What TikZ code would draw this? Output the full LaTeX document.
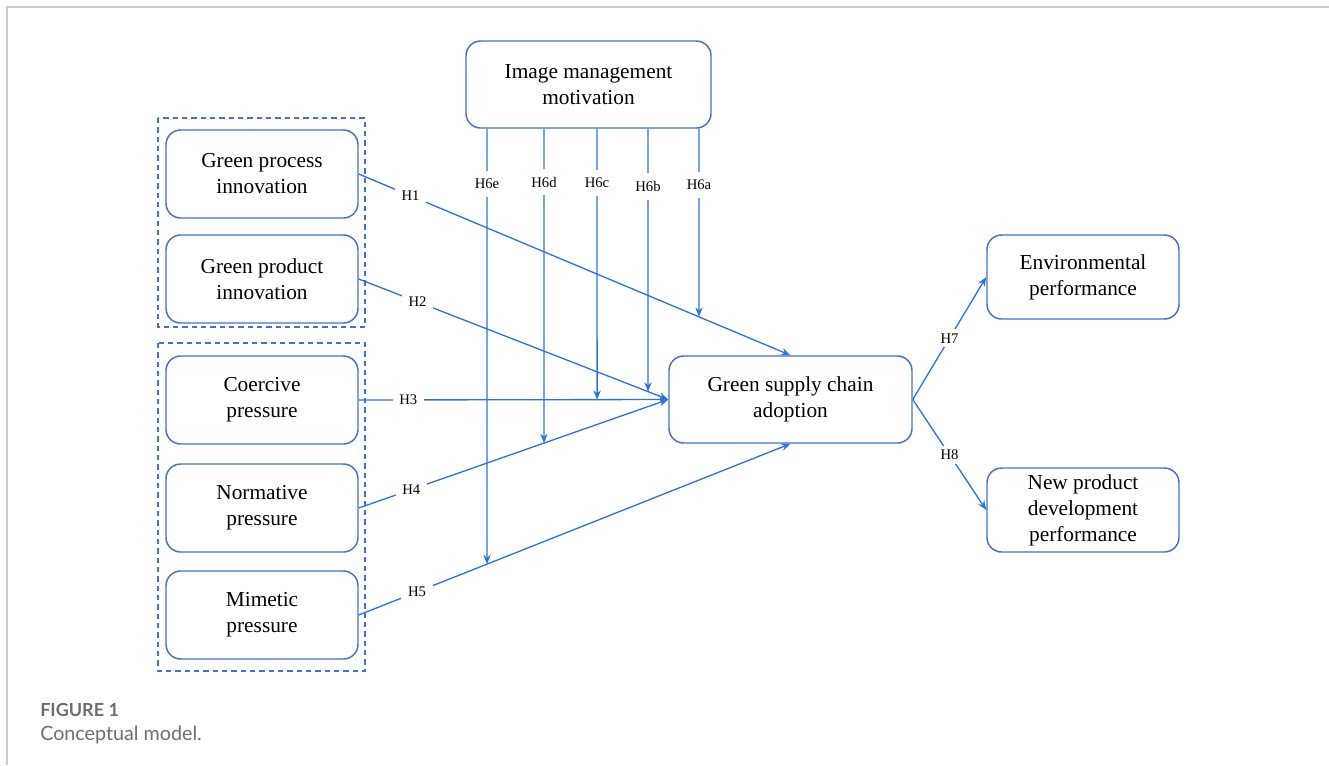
\documentclass[tikz,border=0pt]{standalone}
\usepackage{fontspec}
\setmainfont{Liberation Serif}
\newfontfamily\capfont{Lato}
\usetikzlibrary{arrows.meta,calc}
\definecolor{boxblue}{RGB}{68,114,196}
\definecolor{arrblue}{RGB}{46,117,214}
\definecolor{framegray}{RGB}{204,204,204}
\definecolor{capgray}{RGB}{110,110,110}
\tikzset{
  concept/.style={draw=boxblue, line width=1.1pt, rounded corners=11pt, align=center,
    font=\fontsize{16}{19.5}\selectfont, inner sep=2pt},
  leftbox/.style={concept, minimum width=144pt, minimum height=66pt},
  outbox/.style={concept, minimum width=144pt, minimum height=63pt},
  grp/.style={draw=boxblue, dashed, line width=1pt, dash pattern=on 4pt off 3pt},
  link/.style={draw=arrblue, line width=1pt, -{Stealth[length=7pt,width=5.5pt]}},
  hlab/.style={fill=white, font=\fontsize{11}{13}\selectfont, inner xsep=5pt, inner ysep=6pt},
}
\begin{document}
\begin{tikzpicture}[x=0.75pt,y=-0.75pt]
\useasboundingbox (0,0) rectangle (1329,765);
% frame
\draw[framegray, line width=1.2pt] (7,765) -- (7,7) -- (1329,7);
% group boxes
\draw[grp] (158,118) rectangle (365,327);
\draw[grp] (158,343) rectangle (365,671);
% nodes
\node[concept, minimum width=183.75pt, minimum height=65.25pt] (img) at (588.5,84.5) {Image management\\motivation};
\node[leftbox] (gpi) at (262,174) {Green process\\innovation};
\node[leftbox] (gpd) at (262,279) {Green product\\innovation};
\node[leftbox] (coe) at (262,400) {Coercive\\pressure};
\node[leftbox] (nor) at (262,508) {Normative\\pressure};
\node[leftbox] (mim) at (262,615) {Mimetic\\pressure};
\node[concept, minimum width=182.25pt, minimum height=65.25pt] (gsca) at (790.5,399.5) {Green supply chain\\adoption};
\node[outbox] (env) at (1083,277) {Environmental\\performance};
\node[outbox] (npd) at (1083,510) {New product\\development\\performance};
% main paths
\draw[link] (gpi.east) -- node[hlab, pos=0.12] {H1} (gsca.north);
\draw[link] (gpd.east) -- node[hlab, pos=0.19] {H2} (gsca.west);
\draw[link] (coe.east) -- node[hlab, pos=0.16] {H3} (gsca.west);
\draw[link] (nor.east) -- node[hlab, pos=0.17] {H4} (gsca.west);
\draw[link] (mim.east) -- node[hlab, pos=0.135] {H5} (gsca.south);
\draw[link] (gsca.east) -- node[hlab, pos=0.5, inner sep=3pt] {H7} (env.west);
\draw[link] (gsca.east) -- node[hlab, pos=0.5, inner sep=3pt] {H8} (npd.west);
% moderating paths
\coordinate (a6e) at (487,100); \coordinate (b6e) at (487,700);
\coordinate (a6d) at (544,100); \coordinate (b6d) at (544,700);
\coordinate (a6c) at (597,100); \coordinate (b6c) at (597,700);
\coordinate (a6b) at (648,100); \coordinate (b6b) at (648,700);
\coordinate (a6a) at (699,100); \coordinate (b6a) at (699,700);
\coordinate (e6e) at (intersection of mim.east--gsca.south and a6e--b6e);
\coordinate (e6d) at (intersection of nor.east--gsca.west and a6d--b6d);
\coordinate (e6c) at (intersection of coe.east--gsca.west and a6c--b6c);
\coordinate (e6b) at (intersection of gpd.east--gsca.west and a6b--b6b);
\coordinate (e6a) at (intersection of gpi.east--gsca.north and a6a--b6a);
\draw[link] (img.south -| a6e) -- node[hlab, pos=0.127] {H6e} (e6e);
\draw[link] (img.south -| a6d) -- node[hlab, pos=0.17] {H6d} (e6d);
\draw[link] (img.south -| a6c) -- node[hlab, pos=0.20] {H6c} (e6c);
\draw[link] (img.south -| a6b) -- node[hlab, pos=0.22] {H6b} (e6b);
\draw[link] (img.south -| a6a) -- node[hlab, pos=0.30] {H6a} (e6a);
% caption
\node[anchor=base west, inner sep=0pt, text=capgray, font=\capfont\bfseries\fontsize{13.5}{16}\selectfont] (figlab) at (40,716) {FIGURE 1};
\node[anchor=base west, inner sep=0pt, text=capgray, font=\capfont\fontsize{14.8}{17}\selectfont] (figcap) at (40,740) {Conceptual model.};
\end{tikzpicture}
\end{document}
